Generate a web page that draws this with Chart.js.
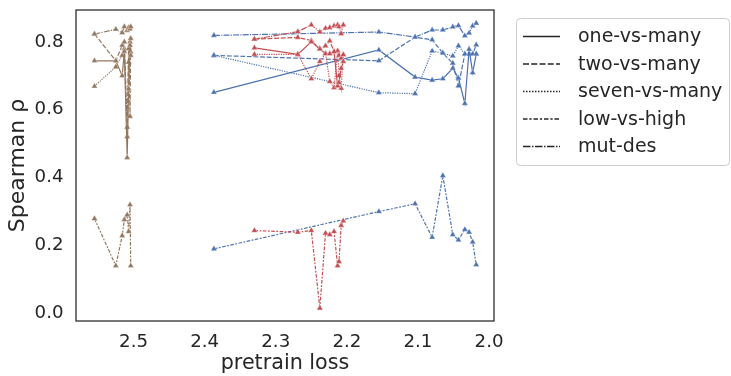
<!DOCTYPE html>
<html>
<head>
<meta charset="utf-8">
<script src="https://cdn.jsdelivr.net/npm/chart.js@4.4.1/dist/chart.umd.min.js"></script>
<style>
  body { margin: 0; background: #fff; }
  #wrap { width: 731px; height: 376px; position: relative; }
</style>
</head>
<body>
<div id="wrap"><canvas id="spearmanChart"></canvas></div>
<script>
// legend names, same order as the line styles below
var metrics = ['one-vs-many', 'two-vs-many', 'seven-vs-many', 'low-vs-high', 'mut-des'];

// small model (brown)
var brownLoss  = [2.555, 2.525, 2.516, 2.513, 2.509, 2.507, 2.505, 2.504];
var brownOne   = [0.744, 0.744, 0.700, 0.772, 0.458, 0.661, 0.790, 0.760];
var brownTwo   = [0.823, 0.744, 0.790, 0.800, 0.548, 0.780, 0.580, 0.810];
var brownSeven = [0.669, 0.726, 0.760, 0.780, 0.520, 0.740, 0.800, 0.770];
var brownLow   = [0.278, 0.139, 0.228, 0.275, 0.289, 0.240, 0.319, 0.139];
var brownMut   = [0.823, 0.837, 0.827, 0.845, 0.834, 0.842, 0.838, 0.845];

// medium model (red)
var redLoss  = [2.330, 2.269, 2.250, 2.238, 2.230, 2.224, 2.218, 2.213, 2.211, 2.208, 2.205];
var redOne   = [0.782, 0.763, 0.800, 0.779, 0.765, 0.765, 0.771, 0.670, 0.680, 0.722, 0.742];
var redTwo   = [0.808, 0.813, 0.804, 0.779, 0.788, 0.803, 0.771, 0.773, 0.760, 0.752, 0.762];
var redSeven = [0.763, 0.763, 0.691, 0.742, 0.765, 0.683, 0.665, 0.773, 0.700, 0.663, 0.762];
var redLow   = [0.243, 0.238, 0.243, 0.014, 0.235, 0.231, 0.240, 0.139, 0.151, 0.258, 0.271];
var redMut   = [0.808, 0.830, 0.850, 0.829, 0.840, 0.842, 0.847, 0.850, 0.845, 0.824, 0.850];

// large model (blue)
var blueLoss  = [2.387, 2.155, 2.104, 2.080, 2.065, 2.051, 2.043, 2.034, 2.028, 2.023, 2.018];
var blueOne   = [0.651, 0.776, 0.696, 0.687, 0.691, 0.722, 0.693, 0.618, 0.778, 0.709, 0.764];
var blueTwo   = [0.760, 0.744, 0.814, 0.806, 0.767, 0.737, 0.670, 0.764, 0.764, 0.764, 0.791];
var blueSeven = [0.760, 0.650, 0.647, 0.773, 0.767, 0.758, 0.788, 0.764, 0.764, 0.764, 0.764];
var blueLow   = [0.189, 0.299, 0.322, 0.223, 0.405, 0.231, 0.215, 0.246, 0.238, 0.209, 0.142];
var blueMut   = [0.819, 0.829, 0.814, 0.835, 0.835, 0.844, 0.848, 0.818, 0.826, 0.847, 0.855];

var xTicks = [2.0, 2.1, 2.2, 2.3, 2.4, 2.5];
var yTicks = [0.0, 0.2, 0.4, 0.6, 0.8];

var LW = 1.2;
var dashes = [[], [4, 1.5], [1, 1], [3, 1.25, 1.5, 1.25], [5, 1, 1, 1]];
var textColor = '#262626';
var font = 'DejaVu Sans';

function pts(xs, ys) {
    return xs.map(function (x, i) { return { x: x, y: ys[i] }; });
}

function series(color, loss, lists) {
    return lists.map(function (vals, k) {
        return {
            label: metrics[k],
            data: pts(loss, vals),
            showLine: true,
            borderColor: color,
            backgroundColor: color,
            borderWidth: LW,
            borderDash: dashes[k].map(function (d) { return d * LW; }),
            pointStyle: 'triangle',
            pointRadius: 3.6,
            pointBorderColor: 'rgba(255,255,255,0.8)',
            pointBorderWidth: 0.5,
            tension: 0
        };
    });
}

var datasets = []
    .concat(series('#937860', brownLoss, [brownOne, brownTwo, brownSeven, brownLow, brownMut]))
    .concat(series('#c44e52', redLoss, [redOne, redTwo, redSeven, redLow, redMut]))
    .concat(series('#4c72b0', blueLoss, [blueOne, blueTwo, blueSeven, blueLow, blueMut]));

var framePlugin = {
    id: 'frame',
    beforeDatasetsDraw: function (chart) {
        var a = chart.chartArea, ctx = chart.ctx;
        ctx.save();
        ctx.strokeStyle = textColor;
        ctx.lineWidth = 1.25;
        ctx.strokeRect(a.left, a.top, a.right - a.left, a.bottom - a.top);
        ctx.restore();
    },
    afterDraw: function (chart) {
        var ctx = chart.ctx;
        ctx.save();
        // legend box
        var bx = 516.5, by = 18.5, bw = 213, bh = 147, r = 4;
        ctx.beginPath();
        ctx.moveTo(bx + r, by);
        ctx.arcTo(bx + bw, by, bx + bw, by + bh, r);
        ctx.arcTo(bx + bw, by + bh, bx, by + bh, r);
        ctx.arcTo(bx, by + bh, bx, by, r);
        ctx.arcTo(bx, by, bx + bw, by, r);
        ctx.closePath();
        ctx.fillStyle = 'rgba(255,255,255,0.8)';
        ctx.fill();
        ctx.strokeStyle = '#cccccc';
        ctx.lineWidth = 1;
        ctx.stroke();
        // entries
        ctx.font = '19px "' + font + '"';
        ctx.textBaseline = 'middle';
        ctx.fillStyle = textColor;
        metrics.forEach(function (m, k) {
            var y = 36.5 + k * 27.5;
            ctx.beginPath();
            ctx.setLineDash(dashes[k].map(function (d) { return d * 1.5; }));
            ctx.strokeStyle = textColor;
            ctx.lineWidth = 1.5;
            ctx.moveTo(523, y);
            ctx.lineTo(560, y);
            ctx.stroke();
            ctx.setLineDash([]);
            ctx.fillText(m, 578, y + 1);
        });
        ctx.restore();
    }
};

var ctx = document.getElementById('spearmanChart').getContext('2d');

var myChart = new Chart(ctx, {
    type: 'scatter',
    data: { datasets: datasets },
    options: {
        responsive: true,
        maintainAspectRatio: false,
        animation: false,
        layout: { padding: { top: 10, right: 237, bottom: 0, left: 0 } },
        plugins: {
            legend: { display: false },
            tooltip: { enabled: false }
        },
        scales: {
            x: {
                type: 'linear',
                reverse: true,
                min: 1.993,
                max: 2.581,
                afterFit: function (s) {
                    s.height = 55;
                    s.paddingLeft = 0;
                    s.paddingRight = 0;
                },
                afterBuildTicks: function (s) {
                    s.ticks = xTicks.map(function (v) { return { value: v }; });
                },
                grid: { display: false, drawTicks: false },
                border: { display: false },
                ticks: {
                    padding: 10,
                    color: textColor,
                    font: { family: font, size: 18.2 },
                    callback: function (v) { return v.toFixed(1); }
                },
                title: {
                    display: true,
                    text: 'pretrain loss',
                    color: textColor,
                    font: { family: font, size: 20.7, lineHeight: 1.2 },
                    padding: { top: 0, bottom: 0 }
                }
            },
            y: {
                min: -0.024,
                max: 0.894,
                afterFit: function (s) {
                    s.width = 76;
                    s.paddingTop = 0;
                    s.paddingBottom = 0;
                },
                afterBuildTicks: function (s) {
                    s.ticks = yTicks.map(function (v) { return { value: v }; });
                },
                grid: { display: false, drawTicks: false },
                border: { display: false },
                ticks: {
                    padding: 12.5,
                    color: textColor,
                    font: { family: font, size: 18.2 },
                    callback: function (v) { return v.toFixed(1); }
                },
                title: {
                    display: true,
                    text: 'Spearman ρ',
                    color: textColor,
                    font: { family: font, size: 22, lineHeight: 1.2 },
                    padding: { top: 5, bottom: 0 }
                }
            }
        }
    },
    plugins: [framePlugin]
});
</script>
</body>
</html>
